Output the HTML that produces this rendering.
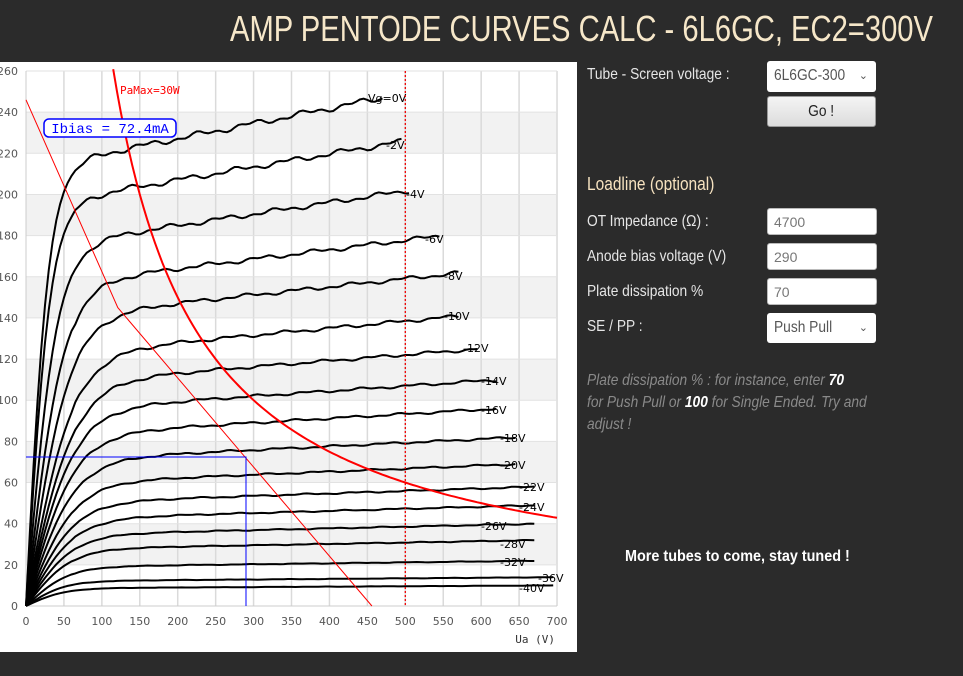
<!DOCTYPE html>
<html><head><meta charset="utf-8">
<style>
html,body{margin:0;padding:0}
body{width:963px;height:676px;background:#2b2b2b;position:relative;overflow:hidden;font-family:"Liberation Sans",sans-serif}
.t{position:absolute;color:#e6e6e6;font-size:16px;white-space:nowrap;transform:scaleX(0.86);transform-origin:0 0}
.box{position:absolute;background:#fff;border:1px solid #bbb;border-radius:3px;color:#777;font-size:14px;box-sizing:border-box;padding-left:6px;line-height:26px}
.sel{position:absolute;background:#fff;border-radius:3px;color:#555;font-size:16px;box-sizing:border-box;padding-left:7px;line-height:30px}
.sel span.x{display:inline-block;transform:scaleX(0.86);transform-origin:0 0}
</style></head><body>
<svg width="963" height="60" style="position:absolute;left:0;top:0">
<text x="933" y="41" text-anchor="end" textLength="703" lengthAdjust="spacingAndGlyphs" font-family="Liberation Sans, sans-serif" font-size="36" fill="#f6e7c9">AMP PENTODE CURVES CALC - 6L6GC, EC2=300V</text>
</svg>
<svg id="ch" width="577" height="590" style="position:absolute;left:0;top:62" viewBox="0 62 577 590"></svg>

<div class="t" style="left:587px;top:66px">Tube - Screen voltage :</div>
<div class="sel" style="left:767px;top:61px;width:109px;height:31px"><span class="x">6L6GC-300</span><span style="position:absolute;right:8px;font-size:11px">&#8964;</span></div>
<div class="sel" style="left:767px;top:96px;width:109px;height:31px;background:linear-gradient(#f4f4f4,#dcdcdc);text-align:center;padding:0;color:#222;border:1px solid #999"><span class="x" style="transform-origin:50% 0">Go !</span></div>
<div class="t" style="left:587px;top:174px;font-size:18px;color:#f6e2c0">Loadline (optional)</div>
<div class="t" style="left:587px;top:213px">OT Impedance (Ω) :</div>
<div class="box" style="left:767px;top:208px;width:110px;height:27px">4700</div>
<div class="t" style="left:587px;top:248px">Anode bias voltage (V)</div>
<div class="box" style="left:767px;top:243px;width:110px;height:27px">290</div>
<div class="t" style="left:587px;top:283px">Plate dissipation %</div>
<div class="box" style="left:767px;top:278px;width:110px;height:27px">70</div>
<div class="t" style="left:587px;top:318px">SE / PP :</div>
<div class="sel" style="left:767px;top:313px;width:109px;height:30px"><span class="x">Push Pull</span><span style="position:absolute;right:8px;font-size:11px">&#8964;</span></div>
<div class="t" style="left:587px;top:370px;font-style:italic;color:#8a8a8a;font-size:16px;line-height:22px">Plate dissipation % : for instance, enter <b style="color:#fff">70</b><br>for Push Pull or <b style="color:#fff">100</b> for Single Ended. Try and<br>adjust !</div>
<div class="t" style="left:625px;top:548px;font-weight:bold;color:#fff;transform:scaleX(0.9)">More tubes to come, stay tuned !</div>

<script>
var s='';
function X(v){return 26+v*0.7586}
function Y(i){return 606-i*2.0577}
function th(x){return (Math.exp(2*x)-1)/(Math.exp(2*x)+1)}
s+='<rect x="0" y="62" width="577" height="590" fill="#fff"/>';
[20,60,100,140,180,220].forEach(function(a){s+='<rect x="26" y="'+Y(a+20)+'" width="531" height="'+(20*2.0577)+'" fill="#f2f2f2"/>'});
for(var v=50;v<=700;v+=50)s+='<line x1="'+X(v)+'" y1="'+Y(260)+'" x2="'+X(v)+'" y2="606" stroke="#dadada" stroke-width="1.5"/>';
for(var i=20;i<=260;i+=20)s+='<line x1="26" y1="'+Y(i)+'" x2="557" y2="'+Y(i)+'" stroke="#e2e2e2"/>';
s+='<line x1="26" y1="606" x2="557" y2="606" stroke="#ccc"/><line x1="26" y1="71" x2="26" y2="606" stroke="#ccc"/>';
for(var v=0;v<=700;v+=50)s+='<text x="'+X(v)+'" y="625" text-anchor="middle" font-size="11" fill="#555" font-family="DejaVu Sans,sans-serif">'+v+'</text>';
for(var i=0;i<=260;i+=20)s+='<text x="18" y="'+(Y(i)+4)+'" text-anchor="end" font-size="11" fill="#555" font-family="DejaVu Sans,sans-serif">'+i+'</text>';
s+='<text x="555" y="643" text-anchor="end" font-size="11" fill="#333" font-family="DejaVu Sans Mono,monospace">Ua (V)</text>';
var C=[["Vg=0V",247,383,30,368,102],["-2V",226,405,32,386,149],["-4V",202,410,40,406,198],["-6V",180,443,48,425,243],["-8V",162,462,55,444,280],["-10V",141,462,60,444,320],["-12V",125,481,62,463,352],["-14V",110,500,62,481,385],["-16V",96,500,62,481,414],["-18V",82,519,62,500,442],["-20V",69,519,62,500,469],["-22V",58,538,62,519,491],["-24V",49,538,62,519,511],["-26V",40,538,60,481,530],["-28V",32,538,58,500,548],["-32V",22,538,55,500,566],["-36V",14,557,50,538,582],["-40V",10,557,50,519,592]];
C.forEach(function(c,k){var ve=(c[2]-26)/0.7586,p=[];for(var v=0;v<=ve;v+=5){var w=Math.sin(v*0.09+k*1.7)*0.004*c[1]+Math.sin(v*0.23+k)*0.003*c[1];var I=c[1]*(0.86+0.14*v/ve)*th(v/c[3])+(v>60?w:0);p.push(X(v).toFixed(1)+','+Y(I).toFixed(1))}
s+='<polyline points="'+p.join(' ')+'" fill="none" stroke="#000" stroke-width="2"/>';
s+='<text x="'+c[4]+'" y="'+c[5]+'" font-size="11" fill="#000" font-family="DejaVu Sans,sans-serif">'+c[0]+'</text>'});
var p=[];for(var v=115;v<=700;v+=5)p.push(X(v).toFixed(1)+','+Y(30000/v).toFixed(1));
s+='<polyline points="'+p.join(' ')+'" fill="none" stroke="#f00" stroke-width="2"/>';
s+='<text x="120" y="94" font-size="11" fill="#f00" font-family="DejaVu Sans Mono,monospace">PaMax=30W</text>';
s+='<polyline points="'+X(0)+','+Y(246)+' '+X(121)+','+Y(145)+' '+X(456)+','+Y(0)+'" fill="none" stroke="#f00" stroke-width="1"/>';
s+='<line x1="'+X(500)+'" y1="71" x2="'+X(500)+'" y2="606" stroke="#e00" stroke-width="1.3" stroke-dasharray="2,2"/>';
s+='<polyline points="'+X(0)+','+Y(72.4)+' '+X(290)+','+Y(72.4)+' '+X(290)+',606" fill="none" stroke="#00f" stroke-width="1"/>';
s+='<rect x="44" y="119" width="132" height="18" rx="5" fill="#fff" stroke="#00f" stroke-width="1.5"/>';
s+='<text x="110" y="133" text-anchor="middle" font-size="14" fill="#00f" font-family="Liberation Mono,monospace">Ibias = 72.4mA</text>';
document.getElementById('ch').innerHTML=s;
</script>
</body></html>
